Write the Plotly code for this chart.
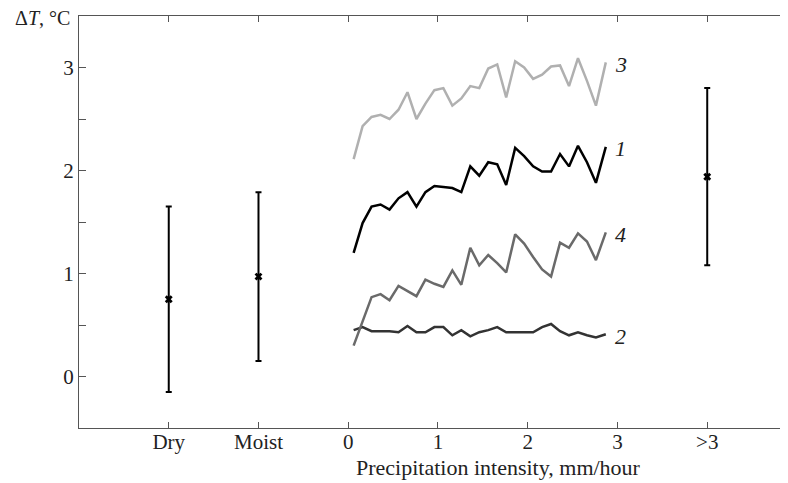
import plotly.graph_objects as go

# ---- data ----
x_intensity = [0.06, 0.16, 0.26, 0.36, 0.46, 0.56, 0.66, 0.76, 0.86, 0.96,
               1.06, 1.16, 1.26, 1.36, 1.46, 1.56, 1.66, 1.76, 1.86, 1.96,
               2.06, 2.16, 2.26, 2.36, 2.46, 2.56, 2.66, 2.76, 2.87]

series_1 = [1.20, 1.49, 1.65, 1.67, 1.62, 1.73, 1.79, 1.65, 1.79, 1.85,
            1.84, 1.83, 1.79, 2.04, 1.95, 2.08, 2.06, 1.86, 2.22, 2.14,
            2.04, 1.99, 1.99, 2.16, 2.04, 2.24, 2.08, 1.88, 2.23]
series_2 = [0.45, 0.48, 0.44, 0.44, 0.44, 0.43, 0.49, 0.43, 0.43, 0.48,
            0.48, 0.40, 0.45, 0.39, 0.43, 0.45, 0.48, 0.43, 0.43, 0.43,
            0.43, 0.48, 0.51, 0.44, 0.40, 0.43, 0.40, 0.38, 0.41]
series_3 = [2.11, 2.43, 2.52, 2.54, 2.50, 2.59, 2.76, 2.50, 2.65, 2.78,
            2.80, 2.63, 2.70, 2.82, 2.80, 2.99, 3.03, 2.71, 3.06, 3.00,
            2.89, 2.93, 3.01, 3.02, 2.82, 3.09, 2.87, 2.63, 3.05]
series_4 = [0.30, 0.53, 0.77, 0.80, 0.74, 0.88, 0.83, 0.78, 0.94, 0.90,
            0.87, 1.03, 0.89, 1.25, 1.08, 1.18, 1.10, 1.01, 1.38, 1.29,
            1.16, 1.04, 0.97, 1.30, 1.25, 1.39, 1.31, 1.13, 1.40]

series_names = ["1", "2", "3", "4"]

cat_x = [-2, -1, 4]
cat_mean = [0.75, 0.97, 1.94]
cat_err = [0.90, 0.82, 0.86]

tick_vals = [-2, -1, 0, 1, 2, 3, 4]
tick_text = ["Dry", "Moist", "0", "1", "2", "3", ">3"]

FONT = "Liberation Serif"

fig = go.Figure()

series = [series_1, series_2, series_3, series_4]
colors = ["#000000", "#333333", "#b0b0b0", "#6a6a6a"]
for name, vals, col in zip(series_names, series, colors):
    fig.add_trace(go.Scatter(x=x_intensity, y=vals, mode="lines",
                             line=dict(color=col, width=2.5), name=name,
                             showlegend=False))
    fig.add_annotation(x=x_intensity[-1], y=vals[-1], xref="x", yref="y",
                       text=f"<i>{name}</i>", showarrow=False,
                       xshift=15, yshift=-2, xanchor="center",
                       font=dict(family=FONT, size=22, color="#222"))

fig.add_trace(go.Scatter(
    x=cat_x, y=cat_mean, mode="markers",
    marker=dict(symbol="x", size=7, color="black", line=dict(width=0)),
    error_y=dict(type="data", array=cat_err, visible=True,
                 thickness=2, width=3, color="black"),
    showlegend=False))

fig.update_layout(
    width=788, height=483,
    margin=dict(l=71, r=8, t=8, b=63),
    paper_bgcolor="white", plot_bgcolor="white",
    font=dict(family=FONT, size=21, color="#222"),
    xaxis=dict(range=[-3, 4.9], tickvals=tick_vals, ticktext=tick_text,
               showline=True, linecolor="#555", linewidth=1,
               mirror="ticks", ticks="inside", ticklen=6, tickcolor="#555",
               showgrid=False, zeroline=False, ticklabelstandoff=-5,
               tickfont=dict(family=FONT, size=21, color="#222")),
    yaxis=dict(range=[-0.5, 3.5], tickvals=[0, 1, 2, 3],
               showline=True, linecolor="#555", linewidth=1,
               ticks="inside", ticklen=7, tickcolor="#555",
               minor=dict(dtick=0.5, ticks="inside", ticklen=7, tickcolor="#555", showgrid=False),
               showgrid=False, zeroline=False,
               tickfont=dict(family=FONT, size=21, color="#222")),
)

fig.add_annotation(x=0.592, y=-0.097, xref="paper", yref="paper",
                   text="Precipitation intensity, mm/hour", showarrow=False,
                   xanchor="center", yanchor="middle",
                   font=dict(family=FONT, size=22, color="#222"))
fig.add_annotation(x=-0.052, y=0.995, xref="paper", yref="paper",
                   text="Δ<i>T</i>, °C", showarrow=False,
                   xanchor="center", yanchor="middle",
                   font=dict(family=FONT, size=20, color="#222"))

fig.write_html("out.html")
